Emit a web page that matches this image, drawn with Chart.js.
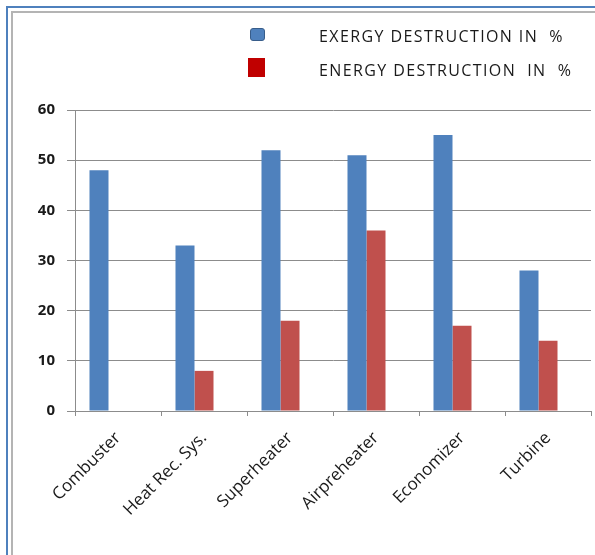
<!DOCTYPE html>
<html lang="en">
  <head>
    <meta charset="UTF-8" />
    <title>Exergy / energy destruction</title>
    <style>
      html,
      body {
        margin: 0;
        padding: 0;
        background: #fff;
        overflow: hidden;
      }
      .page {
        position: relative;
        width: 595px;
        height: 555px;
        overflow: hidden;
        font-family: "Open Sans", sans-serif;
      }
      .frameOuter {
        position: absolute;
        left: 6px;
        top: 6px;
        width: 700px;
        height: 700px;
        border-top: 2px solid #4f81bd;
        border-left: 2px solid #4f81bd;
      }
      .frameInner {
        position: absolute;
        left: 11px;
        top: 11px;
        width: 700px;
        height: 700px;
        border-top: 2px solid #b4b4b4;
        border-left: 2px solid #b4b4b4;
      }
      #chart {
        position: absolute;
        left: 0;
        top: 0;
      }
      .legendItem {
        position: absolute;
        left: 319px;
        font-size: 16px;
        line-height: 16px;
        letter-spacing: 1.4px;
        color: #1a1a1a;
        white-space: pre;
      }
      .legendBox {
        position: absolute;
        box-sizing: border-box;
      }
    </style>
  </head>

  <body>
    <div class="page">
      <div class="frameOuter"></div>
      <div class="frameInner"></div>
      <canvas id="chart" width="595" height="555"></canvas>
      <div id="legend"></div>
    </div>

    <script src="https://cdn.jsdelivr.net/npm/chart.js"></script>
    <script>
      const categories = [
        "Combuster",
        "Heat Rec. Sys.",
        "Superheater",
        "Airpreheater",
        "Economizer",
        "Turbine",
      ];
      const exergyDestruction = [48, 33, 52, 51, 55, 28];
      const energyDestruction = [null, 8, 18, 36, 17, 14];
      // the original chart leaves room for a third (empty) series
      const emptySeries = [null, null, null, null, null, null];
      const seriesNames = ["EXERGY DESTRUCTION IN  %", "ENERGY DESTRUCTION  IN  %"];
      const yMin = 0;
      const yMax = 60;
      const yStep = 10;

      const gridGray = "#8c8c8c";

      let ctx = document.getElementById("chart");
      let chart = new Chart(ctx, {
        type: "bar",
        data: {
          labels: categories,
          datasets: [
            {
              label: seriesNames[0],
              data: exergyDestruction,
              backgroundColor: "#4f81bd",
            },
            {
              label: seriesNames[1],
              data: energyDestruction,
              backgroundColor: "#c0504d",
            },
            {
              label: "",
              data: emptySeries,
              backgroundColor: "rgba(0,0,0,0)",
            },
          ],
        },
        options: {
          responsive: false,
          animation: false,
          devicePixelRatio: 1,
          categoryPercentage: 0.663,
          barPercentage: 1,
          layout: {
            padding: { top: 110, right: 4, left: 0, bottom: 0 },
          },
          plugins: {
            legend: { display: false },
            tooltip: { enabled: false },
          },
          scales: {
            x: {
              offset: true,
              grid: {
                offset: true,
                drawOnChartArea: false,
                color: gridGray,
                tickLength: 5,
              },
              border: { color: gridGray },
              ticks: {
                minRotation: 45,
                maxRotation: 45,
                padding: 12,
                color: "#1a1a1a",
                font: { family: "Open Sans", size: 17 },
              },
              afterFit: (scale) => {
                scale.height = 144;
              },
            },
            y: {
              min: yMin,
              max: yMax,
              ticks: {
                stepSize: yStep,
                padding: 12,
                color: "#1a1a1a",
                font: { family: "Open Sans", size: 15, weight: "bold" },
              },
              grid: {
                color: gridGray,
                tickLength: 8,
              },
              border: { color: gridGray },
              afterFit: (scale) => {
                scale.width = 75;
              },
            },
          },
        },
      });

      // legend drawn as html, next to the plot like the original
      const legendSpec = [
        { top: 28, left: 250, w: 15, h: 13, bg: "#4f81bd", border: "1px solid #385d8a", radius: 3, textTop: 28 },
        { top: 58, left: 248, w: 17, h: 19, bg: "#c00000", border: "none", radius: 0, textTop: 62 },
      ];
      let legend = document.getElementById("legend");
      legendSpec.forEach((s, i) => {
        let box = document.createElement("div");
        box.className = "legendBox";
        box.style.cssText = `left:${s.left}px;top:${s.top}px;width:${s.w}px;height:${s.h}px;background:${s.bg};border:${s.border};border-radius:${s.radius}px;`;
        legend.appendChild(box);
        let txt = document.createElement("div");
        txt.className = "legendItem";
        txt.style.top = s.textTop + "px";
        txt.textContent = chart.data.datasets[i].label;
        legend.appendChild(txt);
      });
    </script>
  </body>
</html>
